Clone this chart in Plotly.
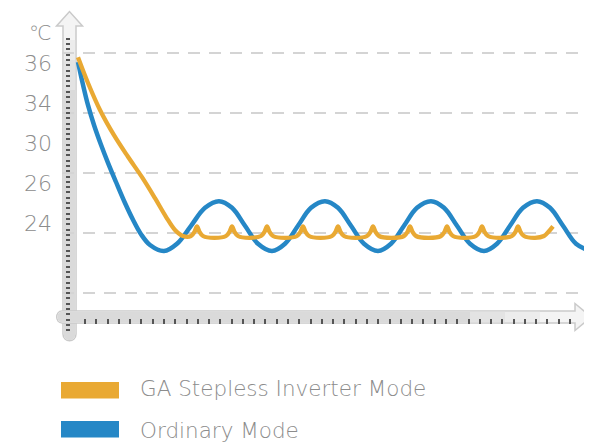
import numpy as np
import plotly.graph_objects as go

# ---- data (x: time units, y: level units; gridlines at levels 0,10,20,30,40) ----
series_names = ["GA Stepless Inverter Mode", "Ordinary Mode"]
series_colors = ["#E9A933", "#2587C6"]

ga_x = [1, 11, 23, 37, 51, 65, 78, 89, 98, 106,
        114, 117.5, 120, 122.5, 126, 137.5,
        149, 152.5, 155, 157.5, 161, 172.5,
        184, 187.5, 190, 192.5, 196, 208,
        220, 223.5, 226, 228.5, 232, 243.5,
        255, 258.5, 261, 263.5, 267, 278.5,
        290, 293.5, 296, 298.5, 302, 314.5,
        327, 330.5, 333, 335.5, 339, 351.5,
        364, 367.5, 370, 372.5, 376, 387.5,
        399, 402.5, 405, 407.5, 411, 423,
        435, 438.5, 441, 443.5, 447, 458,
        467, 471.5, 476]
ga_y = [39.3, 35.0, 30.5, 26.3, 22.7, 19.3, 15.8, 12.7, 10.5, 9.5,
        9.5, 10.2, 11.1, 10.2, 9.5, 9.2,
        9.5, 10.2, 11.1, 10.2, 9.5, 9.2,
        9.5, 10.2, 11.1, 10.2, 9.5, 9.2,
        9.5, 10.2, 11.1, 10.2, 9.5, 9.2,
        9.5, 10.2, 11.1, 10.2, 9.5, 9.2,
        9.5, 10.2, 11.1, 10.2, 9.5, 9.2,
        9.5, 10.2, 11.1, 10.2, 9.5, 9.2,
        9.5, 10.2, 11.1, 10.2, 9.5, 9.2,
        9.5, 10.2, 11.1, 10.2, 9.5, 9.2,
        9.5, 10.2, 11.1, 10.2, 9.5, 9.2,
        9.5, 10.2, 11.1]

ord_x = [1, 6, 11, 17, 24, 31, 39, 48, 56, 64, 73, 87,
         100, 114, 128, 142, 155, 168, 181, 195,
         208, 221, 234, 248, 261, 274, 287, 301,
         314, 327, 340, 354, 367, 380, 393, 407,
         420, 433, 446, 460, 473, 486, 499, 513]
ord_y = [38.5, 34.7, 31.3, 28.0, 24.7, 21.7, 18.5, 15.0, 12.2, 9.8, 8.0, 7.0,
         8.2, 11.2, 14.2, 15.3, 14.2, 11.2, 8.2, 7.0,
         8.2, 11.2, 14.2, 15.3, 14.2, 11.2, 8.2, 7.0,
         8.2, 11.2, 14.2, 15.3, 14.2, 11.2, 8.2, 7.0,
         8.2, 11.2, 14.2, 15.3, 14.2, 11.2, 8.2, 7.0]

y_tick_labels = ["36", "34", "30", "26", "24"]
y_tick_levels = [38.3, 31.6, 25.0, 18.3, 11.6]
grid_levels = [0, 10, 20, 30, 40]

# ---- geometry (page pixels; the page body adds an 8px margin) ----
OFF = 8
W, H = 592 - OFF, 444 - OFF
ML = 62 - OFF
PW = W - ML            # plot area: page x 62..592
PH = 350 - OFF         # plot area: page y 8..350
MB = H - PH
X_RANGE = [-15, 515]
Y_RANGE = [(293 - 350) / 6, (293 - OFF) / 6]
TEXT = "#8c8c8c"
FONT = "DejaVu Sans"


def fx(px):
    return (px - 62) / PW


def fy(py):
    return (350 - py) / PH


def path(cmds):
    # cmds: list of (letter, [px, py, ...]) in page pixels -> paper path
    out = []
    for c, pts in cmds:
        if c == "Z":
            out.append("Z")
            continue
        xy = [f"{fx(pts[i]):.5f},{fy(pts[i + 1]):.5f}" for i in range(0, len(pts), 2)]
        if c == "L":
            out.extend("L" + p for p in xy)
        else:
            out.append(c + " ".join(xy))
    return " ".join(out)


fig = go.Figure()

fig.add_trace(go.Scatter(x=ord_x, y=ord_y, mode="lines", name=series_names[1],
                         line=dict(color=series_colors[1], width=4.5, shape="spline", smoothing=1)))
fig.add_trace(go.Scatter(x=ga_x, y=ga_y, mode="lines", name=series_names[0],
                         line=dict(color=series_colors[0], width=4.3, shape="spline", smoothing=1)))

# dummy traces so the helper axes are drawn
fig.add_trace(go.Scatter(x=[None], y=[None], yaxis="y2", showlegend=False, hoverinfo="skip"))
fig.add_trace(go.Scatter(x=[None], y=[None], yaxis="y3", showlegend=False, hoverinfo="skip"))
fig.add_trace(go.Scatter(x=[None], y=[None], xaxis="x2", showlegend=False, hoverinfo="skip"))

# decorative axis bars
shapes = []
shapes.append(dict(type="path", xref="paper", yref="paper", layer="between",
                   path=path([("M", [63, 26]), ("L", [56.5, 26, 69.5, 11.5, 82.5, 26, 76, 26, 76, 334]),
                              ("C", [76, 343, 63, 343, 63, 334]), ("Z", [])]),
                   fillcolor="#f4f4f4", line=dict(color="#cacaca", width=1.5)))
for top, col in [(40, "#ececec"), (60, "#e3e3e3"), (90, "#dadada")]:
    shapes.append(dict(type="path", xref="paper", yref="paper", layer="between",
                       path=path([("M", [63.8, top]), ("L", [75.2, top, 75.2, 334]),
                                  ("C", [75.2, 342, 63.8, 342, 63.8, 334]), ("Z", [])]),
                       fillcolor=col, line=dict(width=0)))
shapes.append(dict(type="path", xref="paper", yref="paper", layer="between",
                   path=path([("M", [62, 311]), ("L", [575, 311, 575, 303.5, 591, 317, 575, 330.5, 575, 323, 62, 323]),
                              ("C", [55, 323, 55, 311, 62, 311]), ("Z", [])]),
                   fillcolor="#f4f4f4", line=dict(color="#cacaca", width=1.5)))
for right, col in [(540, "#ececec"), (505, "#e3e3e3"), (470, "#dadada")]:
    shapes.append(dict(type="path", xref="paper", yref="paper", layer="between",
                       path=path([("M", [62, 311.8]), ("L", [right, 311.8, right, 322.2, 62, 322.2]),
                                  ("C", [56, 322.2, 56, 311.8, 62, 311.8]), ("Z", [])]),
                       fillcolor=col, line=dict(width=0)))

# legend swatches
for i, col in enumerate(series_colors):
    y0 = 382 + i * 39
    shapes.append(dict(type="rect", xref="paper", yref="paper",
                       x0=fx(61), x1=fx(119), y0=fy(y0), y1=fy(y0 + 16.5),
                       fillcolor=col, line=dict(width=0)))

annotations = []
for i, name in enumerate(series_names):
    annotations.append(dict(x=fx(138), y=fy(389 + i * 41), xref="paper", yref="paper",
                            text=name, showarrow=False, xanchor="left", yanchor="middle",
                            font=dict(family=FONT, size=21.5, color=TEXT, weight=200)))
annotations.append(dict(x=fx(40), y=fy(33), xref="paper", yref="paper", text="℃",
                        showarrow=False, xanchor="center", yanchor="middle",
                        font=dict(family=FONT, size=20, color=TEXT, weight=200)))

fig.update_layout(
    width=W, height=H,
    margin=dict(l=ML, r=0, t=0, b=MB),
    paper_bgcolor="white", plot_bgcolor="white",
    showlegend=False,
    shapes=shapes, annotations=annotations,
    xaxis=dict(range=X_RANGE, showgrid=False, zeroline=False, showticklabels=False, ticks=""),
    xaxis2=dict(range=X_RANGE, overlaying="x", anchor="free", position=fy(318), side="bottom",
                tickvals=np.arange(8, 494, 11.28), ticks="outside", ticklen=5, tickwidth=1.5,
                tickcolor="#555555", showticklabels=False, showgrid=False, zeroline=False),
    yaxis=dict(range=Y_RANGE, showgrid=False, zeroline=False, ticks="",
               tickvals=y_tick_levels, ticktext=y_tick_labels, ticklabelstandoff=9,
               tickfont=dict(family=FONT, size=22, color=TEXT, weight=200)),
    yaxis2=dict(range=Y_RANGE, overlaying="y", showticklabels=False, ticks="", zeroline=False,
                tickvals=grid_levels, showgrid=True, gridcolor="#d4d4d4", gridwidth=1.5,
                griddash="12px,9px"),
    yaxis3=dict(range=Y_RANGE, overlaying="y", anchor="free", position=fx(70), side="left",
                tickvals=np.arange(-6.2, 42.6, 0.883), ticks="outside", ticklen=4, tickwidth=1.5,
                tickcolor="#555555", showticklabels=False, showgrid=False, zeroline=False),
)

fig.write_html("out.html")
